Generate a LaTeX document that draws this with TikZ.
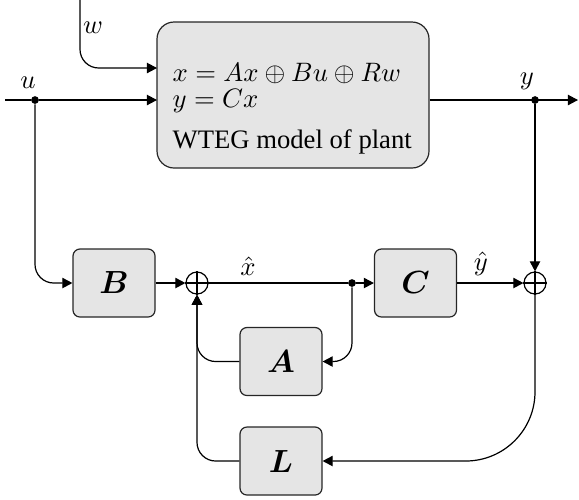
\documentclass[tikz,border=0pt]{standalone}
\usepackage{fontspec}
\setmainfont{Liberation Serif}
\usepackage{amsmath,bm}
\usetikzlibrary{arrows.meta}
\begin{document}
\begin{tikzpicture}[x=0.375pt,y=-0.375pt,
  line width=0.45pt,
  arr/.style={-{Triangle[length=3.8pt,width=3.9pt]}},
  blk/.style={draw=black!85, fill=black!10, rounded corners=2.6pt,
    minimum width=30.75pt, minimum height=25.5pt, inner sep=0pt,
    font=\fontsize{12.8}{15}\selectfont},
  plantbox/.style={draw=black!85, fill=black!10, rounded corners=6.4pt,
    minimum width=102pt, minimum height=54.75pt, inner sep=0pt},
  sumnode/.style={circle, draw, minimum size=8.25pt, inner sep=0pt},
  junct/.style={circle, fill, inner sep=0pt, minimum size=2.9pt},
  lbl/.style={inner sep=0pt}]
\useasboundingbox (0,0) rectangle (579,499);

% plant model
\node[plantbox] (plant) at (293,95) {};
\node[lbl, anchor=west] (eqx) at (172,73) {$x = Ax \oplus Bu \oplus Rw$};
\node[lbl, anchor=west] (eqy) at (172,101) {$y = Cx$};
\node[lbl, anchor=west] (title) at (172,142) {WTEG model of plant};

% observer blocks
\node[blk] (B) at (114,283) {$\bm{B}$};
\node[blk] (C) at (415.5,283) {$\bm{C}$};
\node[blk] (A) at (281,361.5) {$\bm{A}$};
\node[blk] (L) at (281,461) {$\bm{L}$};

% summing junctions
\node[sumnode] (s1) at (197,283) {};
\node[sumnode] (s2) at (535,283) {};
\draw (s1.north) -- (s1.south) (s1.west) -- (s1.east);
\draw (s2.north) -- (s2.south) (s2.west) -- (s2.east);

% branch points
\node[junct] (ud) at (35,100) {};
\node[junct] (yd) at (535,100) {};
\node[junct] (xd) at (352,283) {};

% free ends
\coordinate (wtop) at (80,0);
\coordinate (win) at (157,68);
\coordinate (uin) at (5,100);
\coordinate (uplant) at (157,100);
\coordinate (yout) at (578,100);

% labels
\node[lbl] (wl) at (93,28) {$w$};
\node[lbl] (ul) at (28,83) {$u$};
\node[lbl] (yl) at (527,81) {$y$};
\node[lbl] (xh) at (248,266) {$\hat{x}$};
\node[lbl] (yh) at (481,264) {$\hat{y}$};

% plant inputs and output
\draw[arr, rounded corners=7pt] (wtop) |- (win);
\draw (uin) -- (ud);
\draw[arr] (ud) -- (uplant);
\draw[arr] (plant.east |- yout) -- (yout);

% observer
\draw[arr, rounded corners=7pt] (ud) |- (B.west);
\draw[arr] (B.east) -- (s1.west);
\draw (s1.east) -- (xd);
\draw[arr] (xd) -- (C.west);
\draw[arr] (C.east) -- (s2.west);
\draw[arr] (yd) -- (s2.north);
\draw[arr, rounded corners=7pt] (xd) |- (A.east);
\draw[arr, rounded corners=7pt] (A.west) -| (s1.south);
\draw[arr, rounded corners=7pt] (L.west) -| (s1.south);
\draw[arr, rounded corners=26pt] (s2.south) |- (L.east);
\end{tikzpicture}
\end{document}
